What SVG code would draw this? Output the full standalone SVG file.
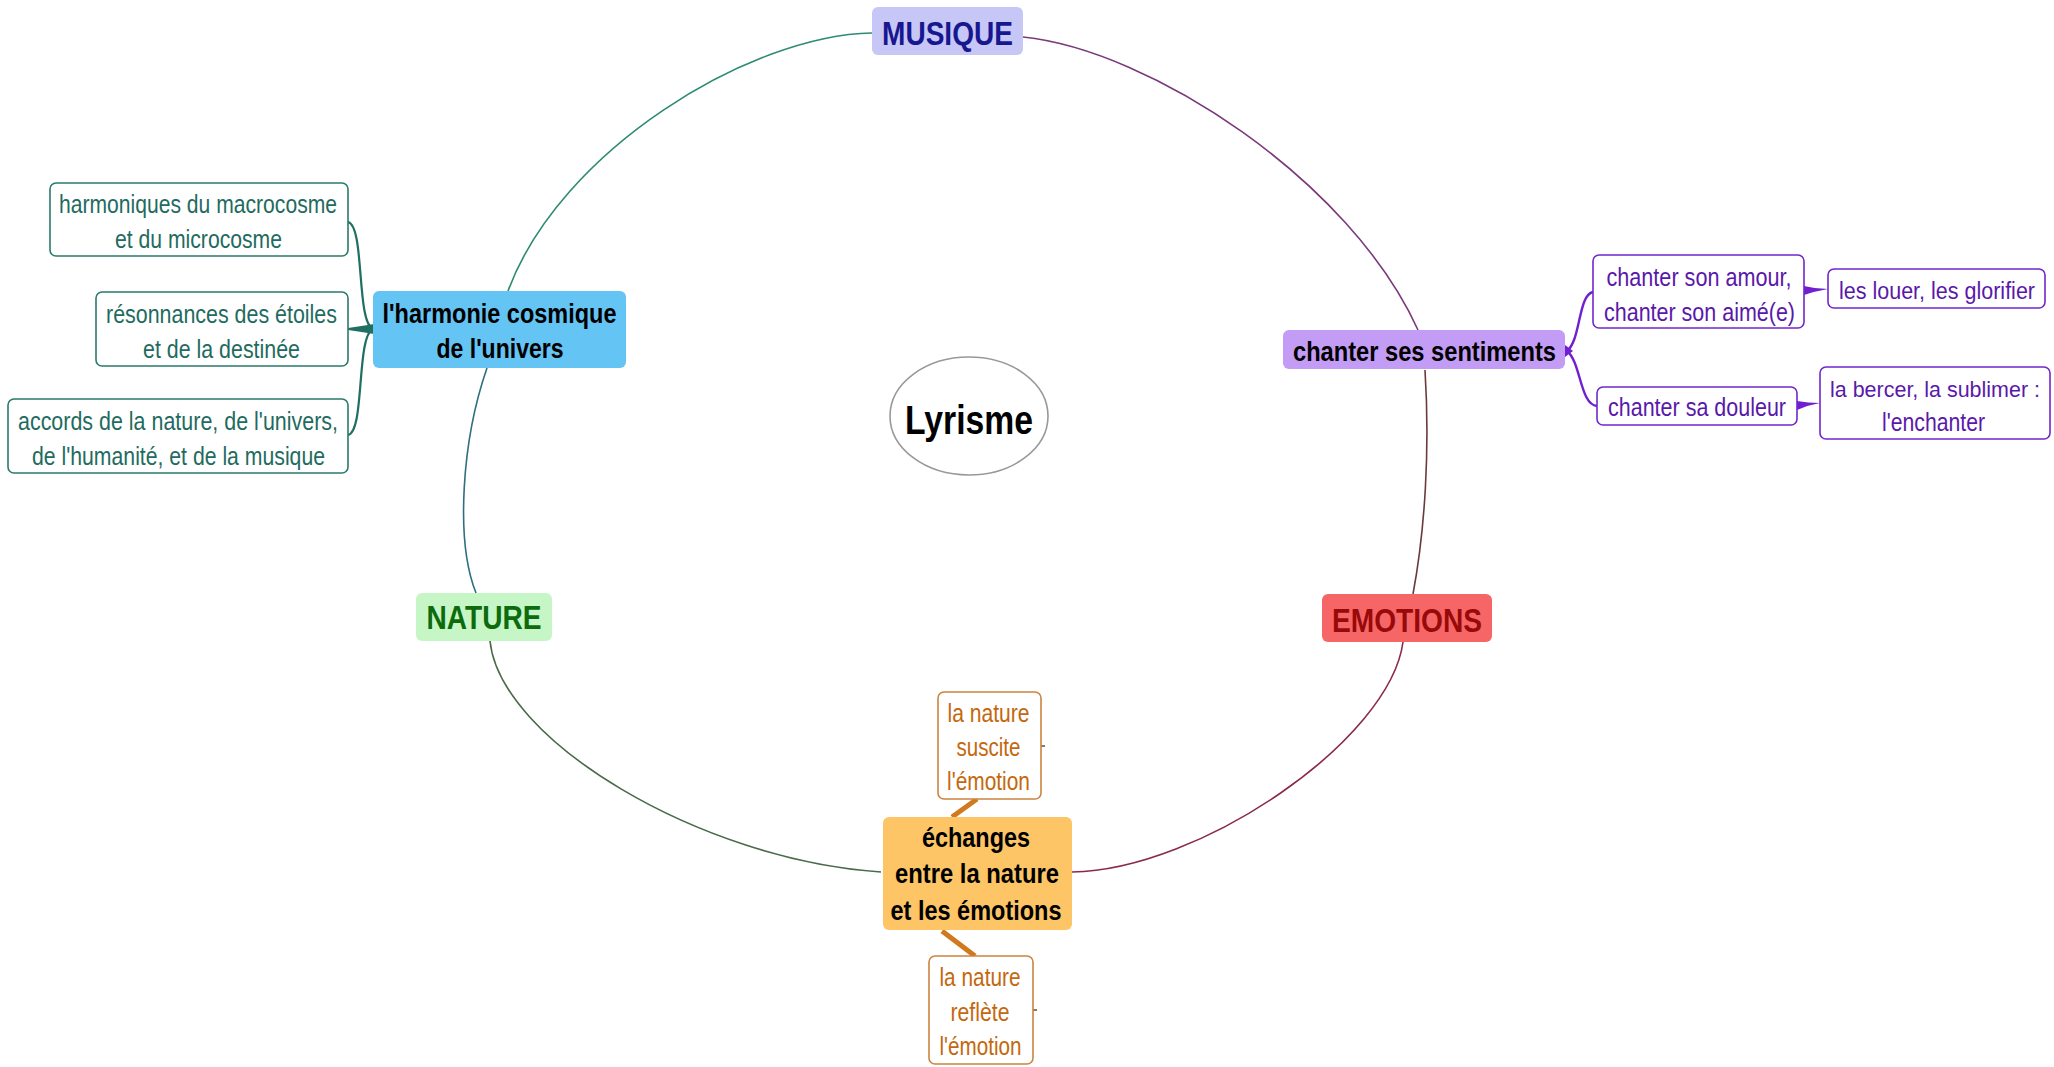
<svg xmlns="http://www.w3.org/2000/svg" width="2054" height="1067" viewBox="0 0 2054 1067">
<style>
  text { font-family: "Liberation Sans", Arial, sans-serif; text-anchor: middle; }
  .bold { font-weight: bold; font-size: 28px; fill: #000; }
  .title { font-weight: bold; font-size: 33px; }
  .teal { font-size: 25px; fill: #1f6b5f; }
  .violet { font-size: 25px; fill: #5a18aa; }
  .orange { font-size: 25px; fill: #c4680e; }
  .boxT { fill: #fff; stroke: #2b7a6e; stroke-width: 1.6; }
  .boxV { fill: #fff; stroke: #7027cc; stroke-width: 1.6; }
  .boxO { fill: #fff; stroke: #cc8440; stroke-width: 1.6; }
  .rel { fill: none; stroke-width: 1.6; }
</style>
<rect width="2054" height="1067" fill="#fff"/>

<g id="connectors">
  <path class="rel" stroke="#2e8a74" d="M872,33 C750,35 560,150 508,291"/>
  <path class="rel" stroke="#2f6f7f" d="M487,368 C462,440 455,540 476,593"/>
  <path class="rel" stroke="#4a6a4a" d="M490,641 C500,740 700,860 881,872"/>
  <path class="rel" stroke="#8a2a4a" d="M1072,872 C1200,870 1390,740 1403,642"/>
  <path class="rel" stroke="#6a3a3a" d="M1413,594 C1425,530 1430,450 1425,370"/>
  <path class="rel" stroke="#7a3a7a" d="M1418,330 C1350,180 1150,50 1023,37"/>
  <!-- harmonie children -->
  <path fill="none" stroke="#1f6f62" stroke-width="2.2" d="M348,222 C365,226 356,322 373,329"/>
  <path fill="none" stroke="#1f6f62" stroke-width="2.2" d="M348,435 C365,432 356,336 373,329"/>
  <path fill="#1f6f62" d="M348,328 Q362,326 374,324 L374,334 Q362,332 348,330 Z"/>
  <!-- chanter children -->
  <path fill="none" stroke="#7020d0" stroke-width="2.4" d="M1567,351 C1581,340 1578,295 1593,292"/>
  <path fill="none" stroke="#7020d0" stroke-width="2.4" d="M1567,351 C1581,362 1580,405 1597,406"/>
  <path fill="#7020d0" d="M1565,345 L1573,351 L1565,357 Z"/>
  <path fill="#7020d0" d="M1804,286 Q1816,289 1828,289 Q1816,291 1804,295 Z"/>
  <path fill="#7020d0" d="M1797,401 Q1808,403 1820,403 Q1808,405 1797,410 Z"/>
  <!-- échanges children -->
  <path fill="none" stroke="#d07a20" stroke-width="5" d="M952,817 L977,799"/>
  <path fill="none" stroke="#d07a20" stroke-width="5" d="M942,931 L975,956"/>
  <path fill="none" stroke="#7a4a20" stroke-width="1.5" d="M1041,746 L1045,746"/>
  <path fill="none" stroke="#7a4a20" stroke-width="1.5" d="M1033,1010 L1037,1010"/>
</g>

<g id="lyrisme">
  <ellipse cx="969" cy="416" rx="79" ry="59" fill="#fff" stroke="#999" stroke-width="1.6"/>
  <text x="969" y="434" font-size="41" font-weight="bold" fill="#000" textLength="128" lengthAdjust="spacingAndGlyphs">Lyrisme</text>
</g>

<g id="musique">
  <rect x="872" y="7" width="151" height="48" rx="6" fill="#c6c6f7"/>
  <text class="title" x="947.5" y="45" fill="#17178f" textLength="131" lengthAdjust="spacingAndGlyphs">MUSIQUE</text>
</g>

<g id="nature">
  <rect x="416" y="593" width="136" height="48" rx="6" fill="#c6f6c6"/>
  <text class="title" x="484" y="628.5" fill="#0d6b0d" textLength="115" lengthAdjust="spacingAndGlyphs">NATURE</text>
</g>

<g id="emotions">
  <rect x="1322" y="594" width="170" height="48" rx="6" fill="#f76666"/>
  <text class="title" x="1407" y="631.5" fill="#980a0a" textLength="150" lengthAdjust="spacingAndGlyphs">EMOTIONS</text>
</g>

<g id="harmonie">
  <rect x="373" y="291" width="253" height="77" rx="6" fill="#64c4f4"/>
  <text class="bold" x="499.5" y="322.5" textLength="234" lengthAdjust="spacingAndGlyphs">l'harmonie cosmique</text>
  <text class="bold" x="500" y="358" textLength="127" lengthAdjust="spacingAndGlyphs">de l'univers</text>
</g>

<g id="harmoniques">
  <rect class="boxT" x="50" y="183" width="298" height="73" rx="6"/>
  <text class="teal" x="198" y="213" textLength="278" lengthAdjust="spacingAndGlyphs">harmoniques du macrocosme</text>
  <text class="teal" x="198.5" y="248" textLength="167" lengthAdjust="spacingAndGlyphs">et du microcosme</text>
</g>

<g id="resonnances">
  <rect class="boxT" x="96" y="292" width="252" height="74" rx="6"/>
  <text class="teal" x="221.5" y="323" textLength="231" lengthAdjust="spacingAndGlyphs">résonnances des étoiles</text>
  <text class="teal" x="221.5" y="358" textLength="157" lengthAdjust="spacingAndGlyphs">et de la destinée</text>
</g>

<g id="accords">
  <rect class="boxT" x="8" y="399" width="340" height="74" rx="6"/>
  <text class="teal" x="178" y="430" textLength="320" lengthAdjust="spacingAndGlyphs">accords de la nature, de l'univers,</text>
  <text class="teal" x="178.5" y="464.5" textLength="293" lengthAdjust="spacingAndGlyphs">de l'humanité, et de la musique</text>
</g>

<g id="chanter">
  <rect x="1283" y="330" width="282" height="39" rx="6" fill="#c39cf5"/>
  <text class="bold" x="1424.5" y="360.5" textLength="263" lengthAdjust="spacingAndGlyphs">chanter ses sentiments</text>
</g>

<g id="amour">
  <rect class="boxV" x="1593" y="255" width="211" height="73" rx="6"/>
  <text class="violet" x="1699" y="286" textLength="185" lengthAdjust="spacingAndGlyphs">chanter son amour,</text>
  <text class="violet" x="1699.5" y="320.5" textLength="191" lengthAdjust="spacingAndGlyphs">chanter son aimé(e)</text>
</g>

<g id="louer">
  <rect class="boxV" x="1828" y="269" width="217" height="39" rx="6"/>
  <text class="violet" x="1937" y="298.5" font-size="23" style="font-size:23px" textLength="196" lengthAdjust="spacingAndGlyphs">les louer, les glorifier</text>
</g>

<g id="douleur">
  <rect class="boxV" x="1597" y="387" width="200" height="38" rx="6"/>
  <text class="violet" x="1697" y="415.5" textLength="178" lengthAdjust="spacingAndGlyphs">chanter sa douleur</text>
</g>

<g id="bercer">
  <rect class="boxV" x="1820" y="367" width="230" height="72" rx="6"/>
  <text class="violet" x="1935" y="396.5" style="font-size:22.5px" textLength="210" lengthAdjust="spacingAndGlyphs">la bercer, la sublimer :</text>
  <text class="violet" x="1933.5" y="431" textLength="103" lengthAdjust="spacingAndGlyphs">l'enchanter</text>
</g>

<g id="echanges">
  <rect x="883" y="817" width="189" height="113" rx="6" fill="#fdc566"/>
  <text class="bold" x="976" y="847" textLength="108" lengthAdjust="spacingAndGlyphs">échanges</text>
  <text class="bold" x="977" y="883" textLength="164" lengthAdjust="spacingAndGlyphs">entre la nature</text>
  <text class="bold" x="976" y="919.5" textLength="171" lengthAdjust="spacingAndGlyphs">et les émotions</text>
</g>

<g id="suscite">
  <rect class="boxO" x="938" y="692" width="103" height="107" rx="6"/>
  <text class="orange" x="988.5" y="722" textLength="82" lengthAdjust="spacingAndGlyphs">la nature</text>
  <text class="orange" x="988.5" y="756" textLength="64" lengthAdjust="spacingAndGlyphs">suscite</text>
  <text class="orange" x="988.5" y="790" textLength="83" lengthAdjust="spacingAndGlyphs">l'émotion</text>
</g>

<g id="reflete">
  <rect class="boxO" x="929" y="956" width="104" height="108" rx="6"/>
  <text class="orange" x="980" y="986" textLength="81" lengthAdjust="spacingAndGlyphs">la nature</text>
  <text class="orange" x="980" y="1020.5" textLength="59" lengthAdjust="spacingAndGlyphs">reflète</text>
  <text class="orange" x="980.5" y="1055" textLength="82" lengthAdjust="spacingAndGlyphs">l'émotion</text>
</g>
</svg>
